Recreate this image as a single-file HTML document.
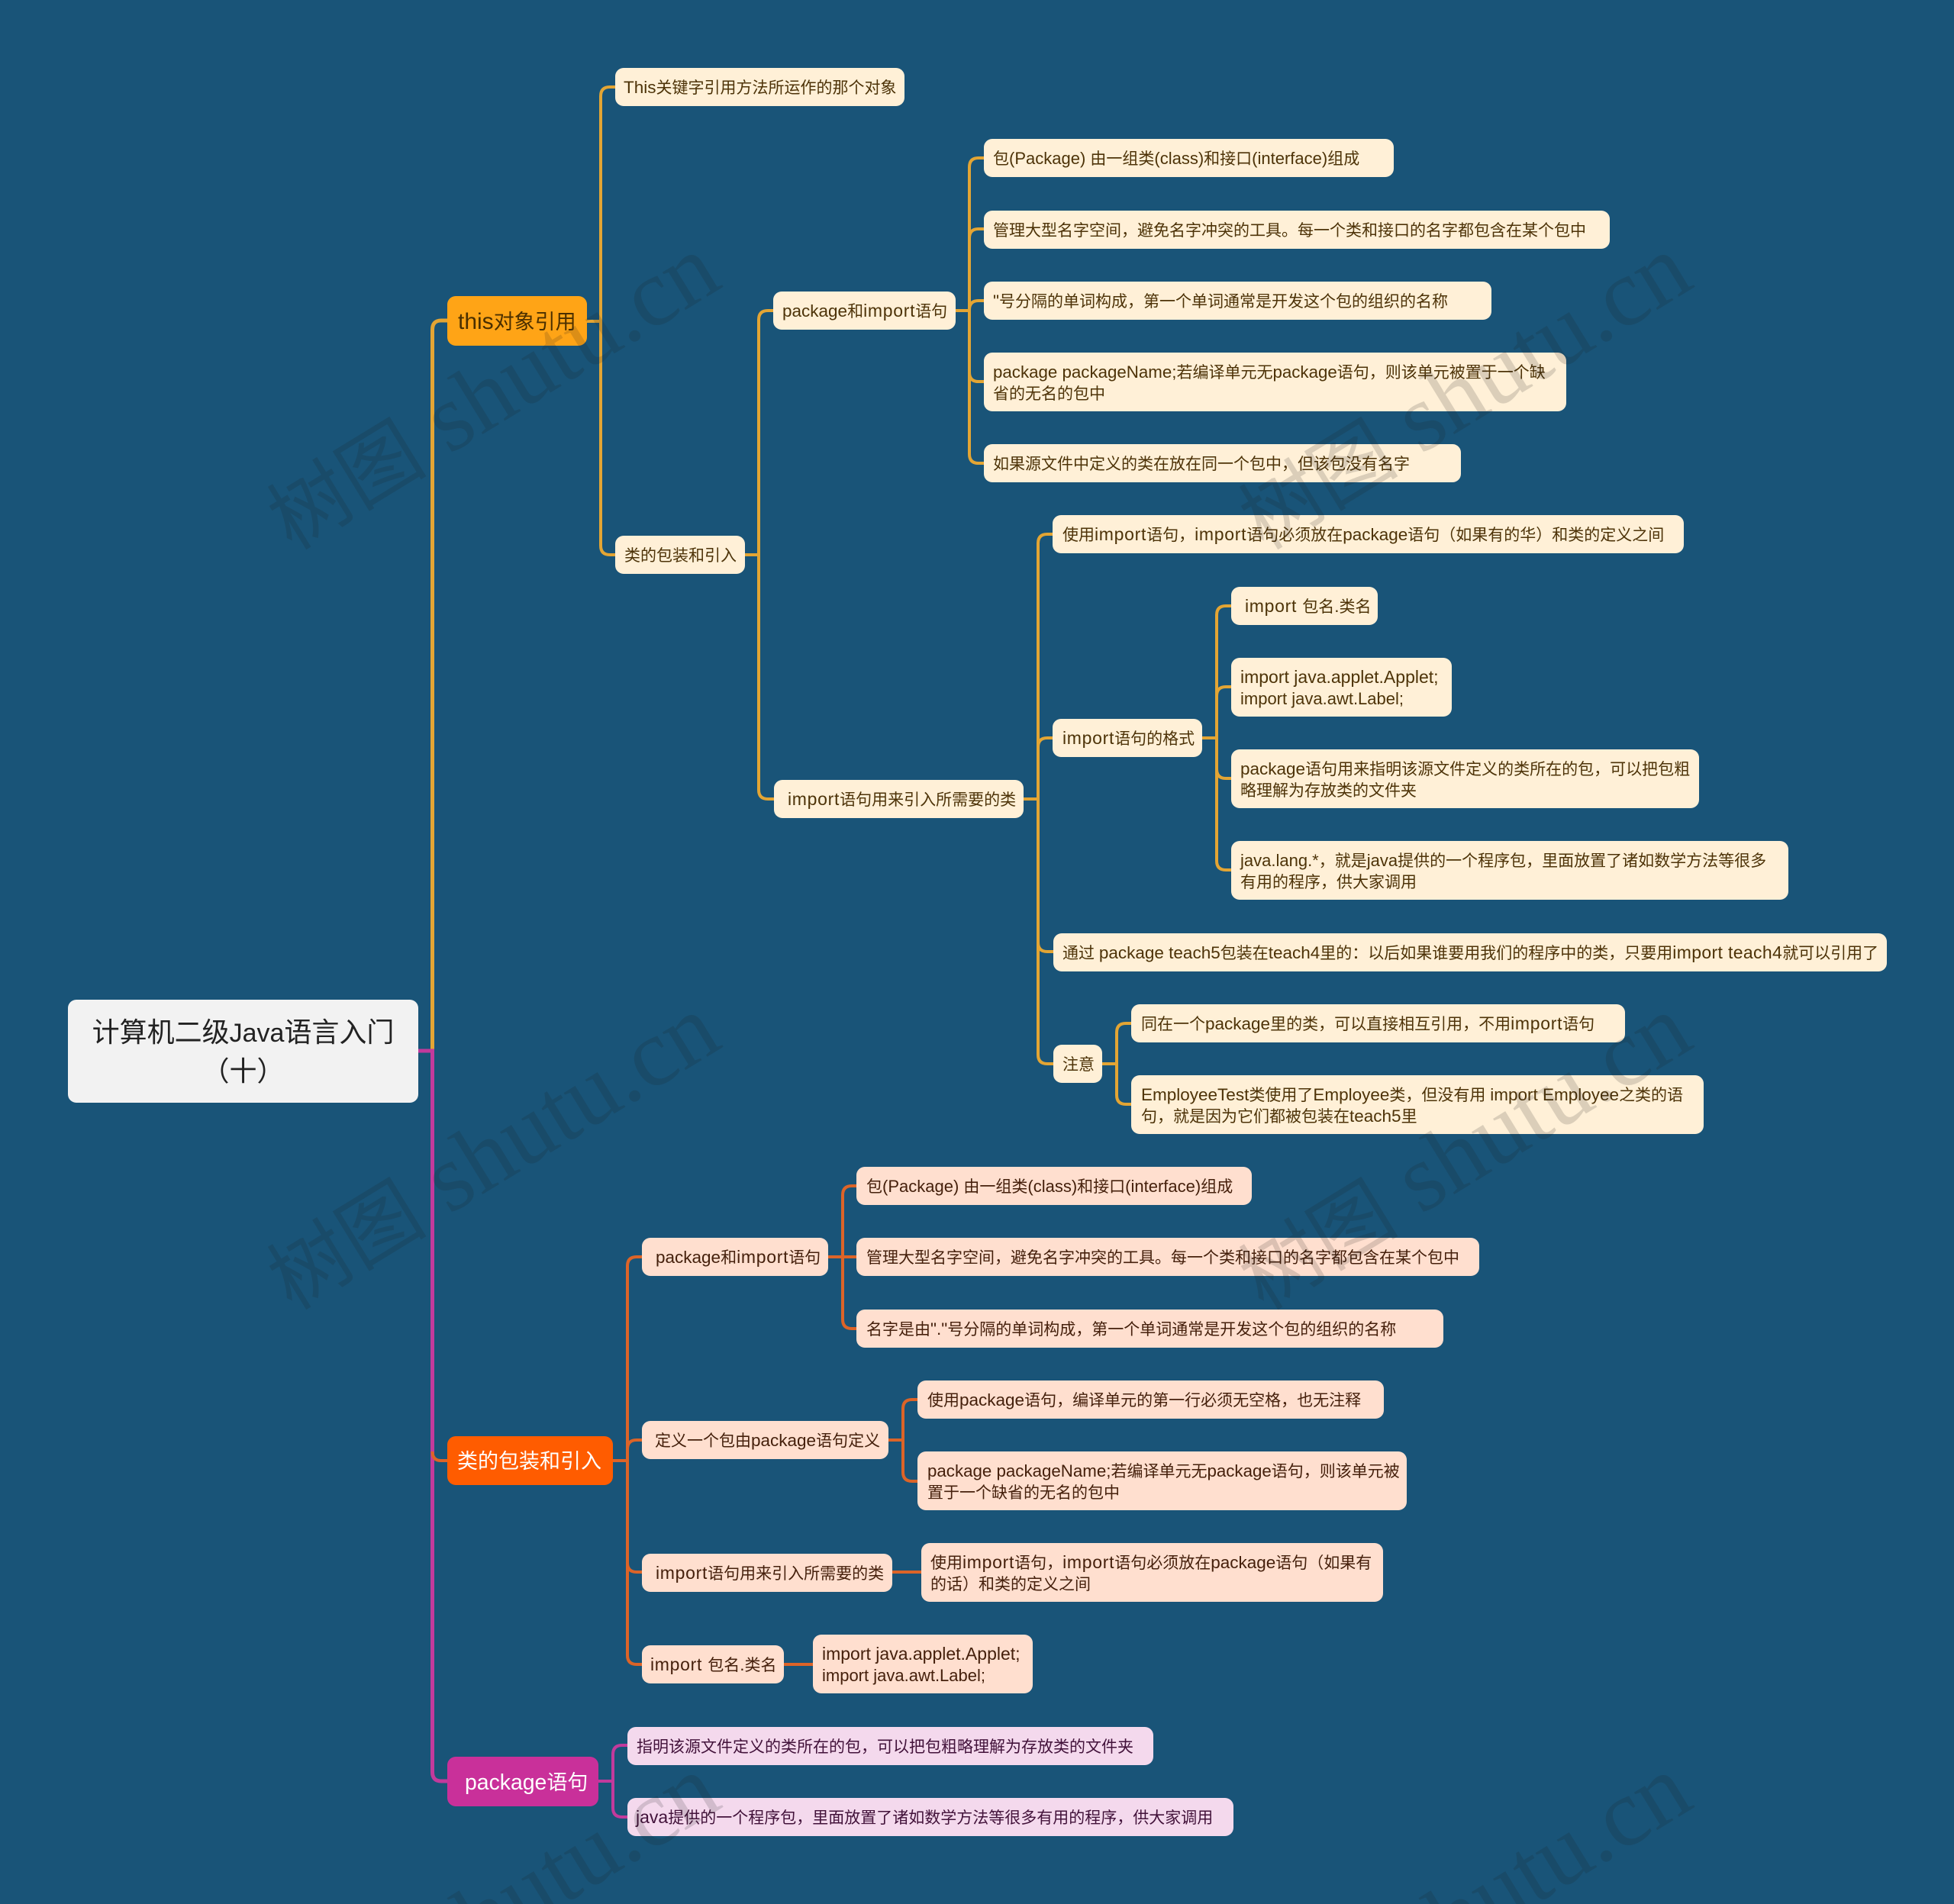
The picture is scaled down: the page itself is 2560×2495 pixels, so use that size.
<!DOCTYPE html>
<html lang="zh-CN">
<head>
<meta charset="utf-8">
<title>计算机二级Java语言入门（十）</title>
<style>
html,body{margin:0;padding:0;background:#195478;overflow:hidden;width:2560px;height:2495px;}
#p{position:relative;width:2560px;height:2495px;overflow:hidden;background:#195478;font-family:"Liberation Sans","Noto Sans CJK SC",sans-serif;}
svg{position:absolute;left:0;top:0;}
.n{position:absolute;box-sizing:border-box;border-radius:11px;white-space:nowrap;font-size:21px;line-height:27.4px;display:flex;align-items:center;padding-top:3px;}
.n em{font-style:normal;font-size:22.5px;}
.n i{font-style:normal;font-size:22px;}
.n b{font-weight:normal;font-size:23px;letter-spacing:.7px;}
.y{background:#fff0d7;color:#4d3308;}
.o{background:#ffdfcf;color:#45200c;}
.m{background:#f4d9ed;color:#42123a;}
.b{font-size:27px;line-height:34px;padding-top:2px;}
.n.b em{font-size:28.4px;}
.n.b i{font-size:30px;}
.w{position:absolute;transform:translate(-50%,-50%) rotate(-31.5deg);white-space:nowrap;font-family:"Liberation Serif","Noto Sans CJK SC",serif;font-size:126px;line-height:140px;color:rgba(30,30,30,.16);}
.w span{font-size:105px;}
</style>
</head>
<body>
<div id="p">
<svg width="2560" height="2495" viewBox="0 0 2560 2495" fill="none" stroke-width="4">
<g stroke="#e3a534">
<path d="M566.5 1377V432Q566.5 420 578 420H586" stroke-width="5"/>
<path d="M769 421H787"/>
<path d="M806 114H799Q787 114 787 126V715Q787 727 799 727H806"/>
<path d="M976 727H994"/>
<path d="M1013 407H1006Q994 407 994 419V1035Q994 1047 1006 1047H1014"/>
<path d="M1252 407H1270"/>
<path d="M1289 207H1282Q1270 207 1270 219V595Q1270 607 1282 607H1289"/>
<path d="M1270 312Q1270 300 1282 300H1289"/>
<path d="M1270 406Q1270 394 1282 394H1289"/>
<path d="M1270 488Q1270 500 1282 500H1289"/>
<path d="M1341 1047H1360"/>
<path d="M1379 700H1372Q1360 700 1360 712V1382Q1360 1394 1372 1394H1380"/>
<path d="M1360 979Q1360 967 1372 967H1379"/>
<path d="M1360 1235Q1360 1247 1372 1247H1380"/>
<path d="M1575 967H1594"/>
<path d="M1613 794H1606Q1594 794 1594 806V1128Q1594 1140 1606 1140H1613"/>
<path d="M1594 912Q1594 900 1606 900H1613"/>
<path d="M1594 1008Q1594 1020 1606 1020H1613"/>
<path d="M1444 1394H1463"/>
<path d="M1482 1341H1475Q1463 1341 1463 1353V1435Q1463 1447 1475 1447H1482"/>
</g>
<g stroke="#c23a9c">
<path d="M548 1377H566.5V2322Q566.5 2334 578 2334H586" stroke-width="5"/>
<path d="M784 2334H803"/>
<path d="M822 2287H815Q803 2287 803 2299V2369Q803 2381 815 2381H822"/>
</g>
<g stroke="#dc6428">
<path d="M566.5 1902Q566.5 1914 578 1914H586"/>
<path d="M803 1914H822"/>
<path d="M841 1647H834Q822 1647 822 1659V2169Q822 2181 834 2181H841"/>
<path d="M822 1899Q822 1887 834 1887H841"/>
<path d="M822 2048Q822 2060 834 2060H841"/>
<path d="M1085 1647H1122"/>
<path d="M1122 1554H1116Q1104 1554 1104 1566V1729Q1104 1741 1116 1741H1122"/>
<path d="M1164 1887H1183"/>
<path d="M1202 1834H1195Q1183 1834 1183 1846V1929Q1183 1941 1195 1941H1202"/>
<path d="M1169 2060H1207"/>
<path d="M1027 2181H1065"/>
</g>
</svg>

<div class="n" style="left:89px;top:1310px;width:459px;height:135px;padding-top:0;background:#f2f2f2;color:#222;font-size:36px;line-height:49px;justify-content:center;text-align:center;"><div>计算机二级<span style="font-size:34px">Java</span>语言入门<br>（十）</div></div>

<div class="n b" style="left:586px;top:388px;width:183px;height:65px;background:#ffa416;color:#4a2f00;padding-left:14px;"><span><i>this</i>对象引用</span></div>
<div class="n b" style="left:586px;top:1882px;width:217px;height:64px;background:#ff5c00;color:#fff;padding-left:13px;">类的包装和引入</div>
<div class="n b" style="left:586px;top:2302px;width:198px;height:65px;background:#c9309a;color:#fff;padding-left:23px;"><span><em>package</em>语句</span></div>

<div class="n y" style="left:806px;top:89px;width:379px;height:50px;padding-left:11px;"><span><em>This</em>关键字引用方法所运作的那个对象</span></div>
<div class="n y" style="left:806px;top:702px;width:170px;height:50px;padding-left:12px;">类的包装和引入</div>
<div class="n y" style="left:1013px;top:382px;width:239px;height:50px;padding-left:12px;"><span><em>package</em>和<b>import</b>语句</span></div>
<div class="n y" style="left:1289px;top:182px;width:537px;height:50px;padding-left:12px;"><span>包<i>(Package) </i>由一组类<i>(class)</i>和接口<i>(interface)</i>组成</span></div>
<div class="n y" style="left:1289px;top:276px;width:820px;height:50px;padding-left:12px;">管理大型名字空间，避免名字冲突的工具。每一个类和接口的名字都包含在某个包中</div>
<div class="n y" style="left:1289px;top:369px;width:665px;height:50px;padding-left:12px;"><span><em>"</em>号分隔的单词构成，第一个单词通常是开发这个包的组织的名称</span></div>
<div class="n y" style="left:1289px;top:462px;width:763px;height:77px;padding-left:12px;"><span><i style="font-size:22.3px">package packageName;</i>若编译单元无<i style="font-size:22.3px">package</i>语句，则该单元被置于一个缺<br>省的无名的包中</span></div>
<div class="n y" style="left:1289px;top:582px;width:625px;height:50px;padding-left:12px;">如果源文件中定义的类在放在同一个包中，但该包没有名字</div>
<div class="n y" style="left:1014px;top:1022px;width:327px;height:50px;padding-left:18px;"><span><b>import</b>语句用来引入所需要的类</span></div>
<div class="n y" style="left:1379px;top:675px;width:827px;height:50px;padding-left:13px;"><span>使用<b>import</b>语句，<b>import</b>语句必须放在<em>package</em>语句（如果有的华）和类的定义之间</span></div>
<div class="n y" style="left:1379px;top:942px;width:196px;height:50px;padding-left:13px;"><span><b>import</b>语句的格式</span></div>
<div class="n y" style="left:1613px;top:769px;width:192px;height:50px;padding-left:18px;"><span><b>import </b>包名<em>.</em>类名</span></div>
<div class="n y" style="left:1613px;top:862px;width:289px;height:77px;padding-left:12px;"><span><em style="font-size:23px">import java.applet.Applet;</em><br><i>import java.awt.Label;</i></span></div>
<div class="n y" style="left:1613px;top:982px;width:613px;height:77px;padding-left:12px;"><span><em>package</em>语句用来指明该源文件定义的类所在的包，可以把包粗<br>略理解为存放类的文件夹</span></div>
<div class="n y" style="left:1613px;top:1102px;width:730px;height:77px;padding-left:12px;"><span><i>java.lang.*</i>，就是<i>java</i>提供的一个程序包，里面放置了诸如数学方法等很多<br>有用的程序，供大家调用</span></div>
<div class="n y" style="left:1380px;top:1223px;width:1092px;height:50px;padding-left:12px;"><span>通过 <em>package teach5</em>包装在<em>teach4</em>里的：以后如果谁要用我们的程序中的类，只要用<b style="letter-spacing:.35px">import teach4</b>就可以引用了</span></div>
<div class="n y" style="left:1380px;top:1369px;width:64px;height:50px;padding-left:12px;">注意</div>
<div class="n y" style="left:1482px;top:1316px;width:647px;height:50px;padding-left:13px;"><span>同在一个<em>package</em>里的类，可以直接相互引用，不用<b>import</b>语句</span></div>
<div class="n y" style="left:1482px;top:1409px;width:750px;height:77px;padding-left:13px;"><span><em>EmployeeTest</em>类使用了<em>Employee</em>类，但没有用 <em>import Employee</em>之类的语<br>句，就是因为它们都被包装在<em>teach5</em>里</span></div>

<div class="n o" style="left:841px;top:1622px;width:244px;height:50px;padding-left:18px;"><span><em>package</em>和<b>import</b>语句</span></div>
<div class="n o" style="left:1122px;top:1529px;width:518px;height:50px;padding-left:13px;"><span>包<i>(Package) </i>由一组类<i>(class)</i>和接口<i>(interface)</i>组成</span></div>
<div class="n o" style="left:1122px;top:1622px;width:816px;height:50px;padding-left:13px;">管理大型名字空间，避免名字冲突的工具。每一个类和接口的名字都包含在某个包中</div>
<div class="n o" style="left:1122px;top:1716px;width:769px;height:50px;padding-left:13px;"><span>名字是由<em>"."</em>号分隔的单词构成，第一个单词通常是开发这个包的组织的名称</span></div>
<div class="n o" style="left:841px;top:1862px;width:323px;height:50px;padding-left:17px;"><span>定义一个包由<em>package</em>语句定义</span></div>
<div class="n o" style="left:1202px;top:1809px;width:611px;height:50px;padding-left:13px;"><span>使用<em>package</em>语句，编译单元的第一行必须无空格，也无注释</span></div>
<div class="n o" style="left:1202px;top:1902px;width:641px;height:77px;padding-left:13px;"><span><i style="font-size:22.3px">package packageName;</i>若编译单元无<i style="font-size:22.3px">package</i>语句，则该单元被<br>置于一个缺省的无名的包中</span></div>
<div class="n o" style="left:841px;top:2036px;width:328px;height:50px;padding-left:18px;"><span><b>import</b>语句用来引入所需要的类</span></div>
<div class="n o" style="left:1207px;top:2022px;width:605px;height:77px;padding-left:12px;"><span>使用<b>import</b>语句，<b>import</b>语句必须放在<em>package</em>语句（如果有<br>的话）和类的定义之间</span></div>
<div class="n o" style="left:841px;top:2156px;width:186px;height:50px;padding-left:11px;"><span><b>import </b>包名<em>.</em>类名</span></div>
<div class="n o" style="left:1065px;top:2142px;width:288px;height:77px;padding-left:12px;"><span><em style="font-size:23px">import java.applet.Applet;</em><br><i>import java.awt.Label;</i></span></div>

<div class="n m" style="left:822px;top:2263px;width:689px;height:50px;padding-left:12px;">指明该源文件定义的类所在的包，可以把包粗略理解为存放类的文件夹</div>
<div class="n m" style="left:822px;top:2356px;width:794px;height:50px;padding-left:11px;"><span><em style="font-size:23px">java</em>提供的一个程序包，里面放置了诸如数学方法等很多有用的程序，供大家调用</span></div>

<div class="w" style="left:646px;top:516px;"><span>树图</span> shutu.cn</div>
<div class="w" style="left:1919px;top:516px;"><span>树图</span> shutu.cn</div>
<div class="w" style="left:646px;top:1512px;"><span>树图</span> shutu.cn</div>
<div class="w" style="left:1919px;top:1512px;"><span>树图</span> shutu.cn</div>
<div class="w" style="left:646px;top:2508px;"><span>树图</span> shutu.cn</div>
<div class="w" style="left:1919px;top:2508px;"><span>树图</span> shutu.cn</div>
</div>
</body>
</html>
